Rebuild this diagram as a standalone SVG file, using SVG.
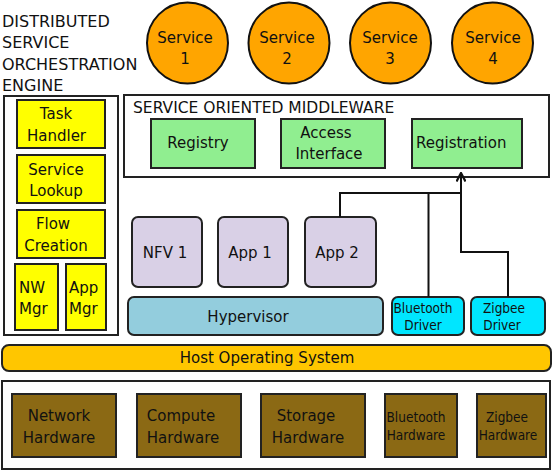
<svg xmlns="http://www.w3.org/2000/svg" width="554" height="472" viewBox="0 0 554 472">
<defs>
<style>
text{font-family:"DejaVu Sans","Liberation Sans",sans-serif;font-size:15px;fill:#111}
.c{text-anchor:middle}
.ttl{font-size:16px}
.cond{font-family:"DejaVu Sans Condensed","DejaVu Sans",sans-serif;font-size:13.5px}
.svc{fill:#FFA500;stroke:#111;stroke-width:2}
.frame{fill:#fff;stroke:#222;stroke-width:2}
.yel{fill:#FFFF00;stroke:#222;stroke-width:2}
.grn{fill:#90EE90;stroke:#222;stroke-width:2}
.pur{fill:#D9D0E6;stroke:#222;stroke-width:2}
.hyp{fill:#93CDDD;stroke:#222;stroke-width:2}
.drv{fill:#00E6FF;stroke:#222;stroke-width:2}
.os{fill:#FFC600;stroke:#222;stroke-width:2}
.hw{fill:#8B6914;stroke:#222;stroke-width:2}
.conn{fill:none;stroke:#111;stroke-width:2}
</style>
<marker id="arr" viewBox="0 0 10 10" refX="9" refY="5" markerWidth="10" markerHeight="10" orient="auto" markerUnits="userSpaceOnUse">
<path d="M0.5,0.5 L9,5 L0.5,9.5" fill="none" stroke="#111" stroke-width="2.2"/>
</marker>
</defs>
<g id="engine-title">
<text class="ttl" x="2" y="26.5">DISTRIBUTED</text>
<text class="ttl" x="2" y="48">SERVICE</text>
<text class="ttl" x="2" y="69.5">ORCHESTRATION</text>
<text class="ttl" x="2" y="91">ENGINE</text>
</g>
<g id="service1"><circle class="svc" cx="187.5" cy="43" r="40.5"/><text class="c" x="185" y="43">Service</text><text class="c" x="185" y="63.5">1</text></g>
<g id="service2"><circle class="svc" cx="289" cy="43" r="40.5"/><text class="c" x="287" y="43">Service</text><text class="c" x="287" y="63.5">2</text></g>
<g id="service3"><circle class="svc" cx="390.5" cy="43" r="40.5"/><text class="c" x="390" y="43">Service</text><text class="c" x="390" y="63.5">3</text></g>
<g id="service4"><circle class="svc" cx="492.5" cy="43" r="40.5"/><text class="c" x="493" y="43">Service</text><text class="c" x="493" y="63.5">4</text></g>
<g id="engine"><rect class="frame" x="4" y="96" width="114" height="239"/></g>
<g id="task-handler"><rect class="yel" x="17" y="100" width="88" height="48"/><text class="c" x="56" y="119">Task</text><text class="c" x="56.5" y="140.5">Handler</text></g>
<g id="service-lookup"><rect class="yel" x="17" y="155" width="88" height="48"/><text class="c" x="56" y="175">Service</text><text class="c" x="56" y="196">Lookup</text></g>
<g id="flow-creation"><rect class="yel" x="17" y="210" width="88" height="48"/><text class="c" x="53" y="229">Flow</text><text class="c" x="56" y="250.5">Creation</text></g>
<g id="nw-mgr"><rect class="yel" x="15" y="264" width="43" height="66"/><text x="19" y="293">NW</text><text x="19" y="314">Mgr</text></g>
<g id="app-mgr"><rect class="yel" x="66" y="264" width="40" height="66"/><text x="69" y="293">App</text><text x="69" y="314">Mgr</text></g>
<g id="middleware"><rect class="frame" x="124" y="95" width="425" height="82"/><text x="133" y="112.5" style="font-size:15.5px">SERVICE ORIENTED MIDDLEWARE</text></g>
<g id="registry"><rect class="grn" x="151" y="119" width="104" height="49"/><text class="c" x="198" y="148">Registry</text></g>
<g id="access-interface"><rect class="grn" x="281" y="119" width="104" height="49"/><text class="c" x="326" y="138">Access</text><text class="c" x="329" y="159">Interface</text></g>
<g id="registration"><rect class="grn" x="412" y="119" width="110" height="49"/><text x="416" y="148">Registration</text></g>
<g id="nfv1"><rect class="pur" x="132" y="217" width="70" height="70" rx="6"/><text class="c" x="165" y="257.5">NFV 1</text></g>
<g id="app1"><rect class="pur" x="218" y="217" width="70" height="70" rx="6"/><text class="c" x="250" y="257.5">App 1</text></g>
<g id="app2"><rect class="pur" x="305" y="217" width="71" height="70" rx="6"/><text class="c" x="337" y="257.5">App 2</text></g>
<g id="hypervisor"><rect class="hyp" x="128" y="297" width="255" height="38" rx="6"/><text class="c" x="248" y="322">Hypervisor</text></g>
<g id="bluetooth-driver"><rect class="drv" x="392" y="297" width="72" height="38" rx="6"/><text class="cond c" x="423" y="313">Bluetooth</text><text class="cond c" x="423" y="330">Driver</text></g>
<g id="zigbee-driver"><rect class="drv" x="471" y="297" width="74" height="38" rx="6"/><text class="cond c" x="504" y="313">Zigbee</text><text class="cond c" x="502" y="330">Driver</text></g>
<g id="host-os"><rect class="os" x="2" y="345" width="549" height="26" rx="7"/><text class="c" x="267" y="363">Host Operating System</text></g>
<g id="hardware"><rect class="frame" x="2" y="381" width="548" height="88"/></g>
<g id="network-hw"><rect class="hw" x="12" y="394" width="104" height="63"/><text class="c" x="59" y="421">Network</text><text class="c" x="59" y="443">Hardware</text></g>
<g id="compute-hw"><rect class="hw" x="137" y="394" width="104" height="63"/><text class="c" x="181" y="421">Compute</text><text class="c" x="183" y="443">Hardware</text></g>
<g id="storage-hw"><rect class="hw" x="261" y="394" width="104" height="63"/><text class="c" x="306" y="421">Storage</text><text class="c" x="308" y="443">Hardware</text></g>
<g id="bluetooth-hw"><rect class="hw" x="385" y="394" width="72" height="63"/><text class="cond c" x="416" y="422">Bluetooth</text><text class="cond c" x="416" y="440">Hardware</text></g>
<g id="zigbee-hw"><rect class="hw" x="477" y="394" width="69" height="63"/><text class="cond c" x="507" y="422">Zigbee</text><text class="cond c" x="508" y="440">Hardware</text></g>
<g id="connectors">
<path class="conn" d="M340,217 V193 H461"/>
<path class="conn" d="M428.5,297 V193"/>
<path class="conn" d="M508,297 V252 H461 V173" marker-end="url(#arr)"/>
</g>
</svg>
